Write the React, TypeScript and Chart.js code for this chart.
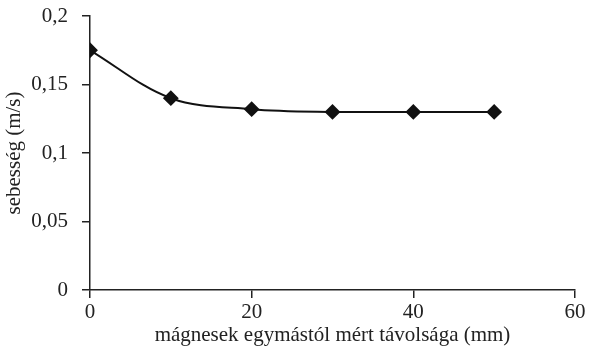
import React, { useEffect, useRef } from "react";
import { Chart, registerables } from "chart.js";

Chart.register(...registerables);

const distances = [0, 10, 20, 30, 40, 50];
const speeds = [0.175, 0.14, 0.132, 0.13, 0.13, 0.13];
const xTitle = "mágnesek egymástól mért távolsága (mm)";
const yTitle = "sebesség (m/s)";

const FONT = "'Liberation Serif', 'DejaVu Serif', serif";
const AXIS = "#222";
const SIZE = 21;

export default function App() {
  const ref = useRef<HTMLCanvasElement>(null);
  useEffect(() => {
    document.body.style.margin = "0";
    const chart = new Chart(ref.current!, {
      type: "line",
      data: {
        datasets: [
          {
            data: distances.map((d, i) => ({ x: d, y: speeds[i] })),
            borderColor: "#111",
            backgroundColor: "#111",
            borderWidth: 2,
            tension: 0.35,
            pointStyle: "rectRot",
            pointRadius: 6.5,
            pointBackgroundColor: "#111",
            pointBorderColor: "#111",
          },
        ],
      },
      options: {
        animation: false,
        responsive: false,
        layout: { padding: { left: 0, top: 16, right: 14, bottom: 0 } },
        plugins: { legend: { display: false }, tooltip: { enabled: false } },
        scales: {
          x: {
            type: "linear",
            min: 0,
            max: 60,
            ticks: { stepSize: 20, color: "#222", font: { family: FONT, size: SIZE }, padding: 2 },
            grid: { drawOnChartArea: false, tickLength: 8, color: AXIS, lineWidth: 1.5 },
            border: { display: true, color: AXIS, width: 1.5 },
            title: { display: true, text: xTitle, color: "#222", font: { family: FONT, size: SIZE }, padding: { top: 0, bottom: 0 } },
            afterFit: (s: any) => { s.height = 58; s.paddingLeft = 10; s.paddingRight = 10; },
          },
          y: {
            min: 0,
            max: 0.2,
            ticks: {
              stepSize: 0.05,
              color: "#222",
              font: { family: FONT, size: SIZE },
              padding: 14,
              callback: (v: any) => String(Number(Number(v).toFixed(2))).replace(".", ","),
            },
            grid: { drawOnChartArea: false, tickLength: 8, color: AXIS, lineWidth: 1.5 },
            border: { display: true, color: AXIS, width: 1.5 },
            title: { display: true, text: yTitle, color: "#222", font: { family: FONT, size: SIZE }, padding: { top: 2, bottom: 0 } },
            afterFit: (s: any) => { s.width = 90; s.paddingTop = 10; s.paddingBottom = 10; },
          },
        },
      },
    });
    return () => chart.destroy();
  }, []);
  return <canvas ref={ref} width={589} height={348} style={{ display: "block" }} />;
}
